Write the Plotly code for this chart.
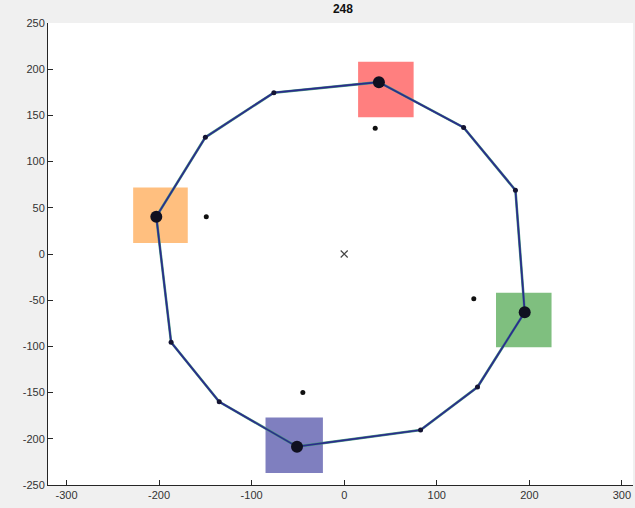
import plotly.graph_objects as go

# Polygon vertices (closed loop)
ring_x = [37.5, 129, 185, 195, 144, 82.5, -51, -135, -187, -203, -150, -76, 37.5]
ring_y = [186, 137, 69, -63, -144, -190.5, -208.5, -160, -95.6, 40.4, 126.3, 174.6, 186]

# Large anchor points
big_x = [37.5, 195, -51, -203]
big_y = [186, -63, -208.5, 40.4]

# Interior points
inner_x = [33.5, 140, -44.7, -149]
inner_y = [136, -48.4, -150, 40.4]

# Center
center_x = [0]
center_y = [0]

# Coloured squares: [x0, x1, y0, y1]
sq_x0 = [15, -228, -85, 164]
sq_x1 = [75, -169, -23, 224]
sq_y0 = [148, 12, -237, -101]
sq_y1 = [208, 72, -177, -42]
sq_colors = ["rgba(255,0,0,0.5)", "rgba(255,127,0,0.5)", "rgba(0,0,128,0.5)", "rgba(0,128,0,0.5)"]

# Tick labels
x_ticks = [-300, -200, -100, 0, 100, 200, 300]
y_ticks = [-250, -200, -150, -100, -50, 0, 50, 100, 150, 200, 250]
x_labels = [str(v) for v in x_ticks]
y_labels = [str(v) for v in y_ticks]

fig = go.Figure()

shapes = []
for x0, x1, y0, y1, c in zip(sq_x0, sq_x1, sq_y0, sq_y1, sq_colors):
    shapes.append(dict(type="rect", xref="x", yref="y", x0=x0, x1=x1, y0=y0, y1=y1,
                       fillcolor=c, line=dict(width=0), layer="below"))

fig.add_trace(go.Scatter(x=ring_x, y=ring_y, mode="lines",
                         line=dict(color="#4a9a80", width=2.6), hoverinfo="skip"))
fig.add_trace(go.Scatter(x=ring_x, y=ring_y, mode="lines+markers",
                         line=dict(color="#2b2b8c", width=1.7),
                         marker=dict(color="#141433", size=5)))
fig.add_trace(go.Scatter(x=big_x, y=big_y, mode="markers",
                         marker=dict(color="#101020", size=12)))
fig.add_trace(go.Scatter(x=inner_x, y=inner_y, mode="markers",
                         marker=dict(color="#101010", size=5)))
fig.add_trace(go.Scatter(x=center_x, y=center_y, mode="markers",
                         marker=dict(color="#444444", size=7, symbol="x-thin",
                                     line=dict(color="#444444", width=1.2))))

axis_common = dict(showgrid=False, zeroline=False, showline=True, linecolor="#262626",
                   linewidth=1, ticks="inside", ticklen=5, tickcolor="#262626",
                   tickfont=dict(family="Liberation Sans, Arial", size=11, color="#333333"),
                   mirror=False, automargin=False)

fig.update_layout(
    width=635, height=508,
    paper_bgcolor="#F0F0F0", plot_bgcolor="white",
    margin=dict(l=48, r=2, t=23, b=23, autoexpand=False),
    showlegend=False,
    shapes=shapes,
    title=dict(text="<b>248</b>", x=0.54, xanchor="center", y=0.99, yanchor="top",
               font=dict(family="Liberation Sans, Arial", size=12, color="#111111")),
    xaxis=dict(range=[-320, 312], tickvals=x_ticks, ticktext=x_labels, **axis_common),
    yaxis=dict(range=[-250, 250], tickvals=y_ticks, ticktext=y_labels, **axis_common),
)

fig.write_html(
    "out.html",
    config={"displayModeBar": False},
    post_script="document.body.style.margin='0';document.body.style.overflow='hidden';"
                "document.body.style.background='#F0F0F0';",
)
